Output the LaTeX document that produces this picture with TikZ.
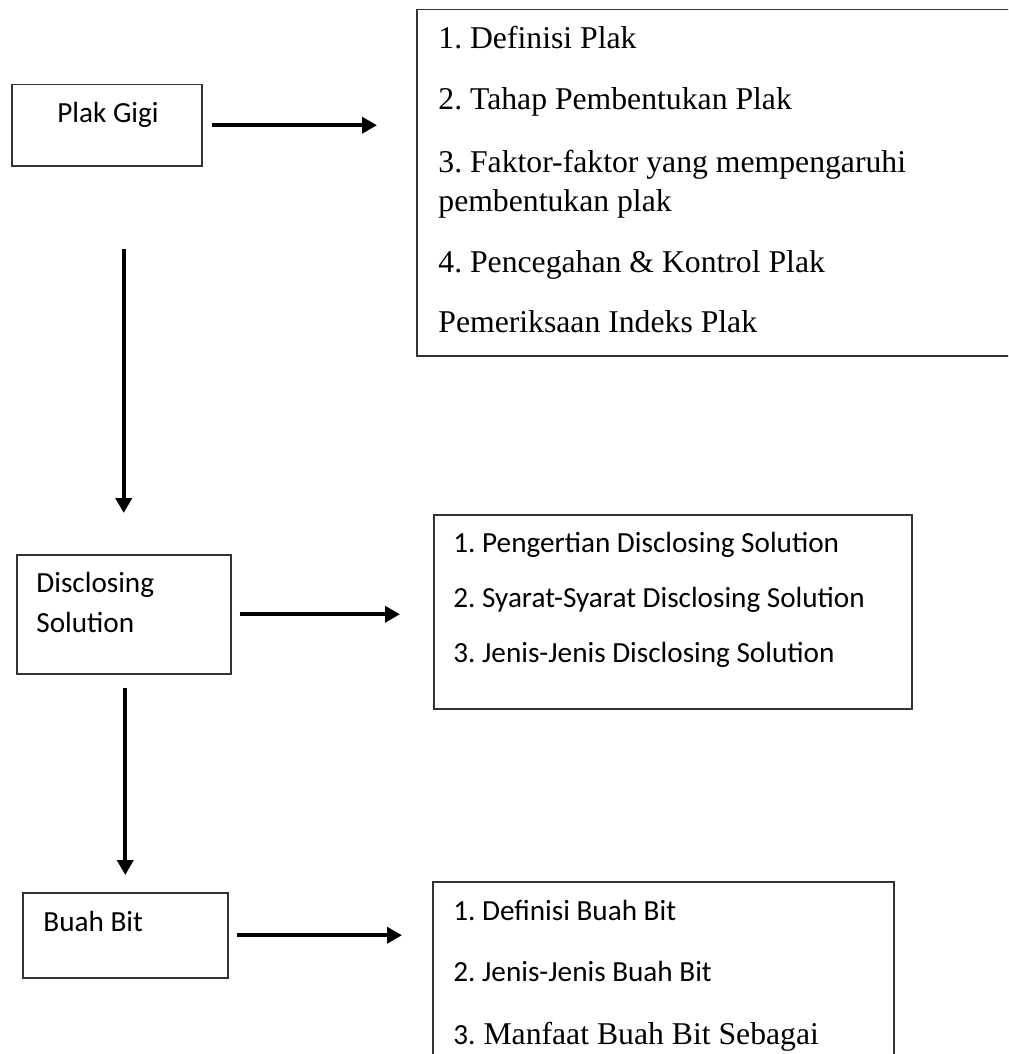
\documentclass[tikz,border=0pt]{standalone}
\usepackage{fontspec}
\setmainfont{Liberation Serif}
\newfontfamily\calibri{Carlito}
\usetikzlibrary{positioning, arrows.meta}
\frenchspacing

\begin{document}
\begin{tikzpicture}[x=0.5pt, y=-0.5pt,
	box/.style={draw=black!80, line width=0.75pt, anchor=north west, inner sep=0pt},
	sans/.style={anchor=base west, inner sep=0pt, font=\calibri\fontsize{14.6}{17}\selectfont},
	serif/.style={anchor=base west, inner sep=0pt, font=\fontsize{15.85}{19}\selectfont},
	arrow/.style={line width=2pt, -{Triangle[width=8pt, length=7.5pt]}}]
				\path[use as bounding box, clip] (0,0) rectangle (1008,1054);
				% left column
				\node[box, minimum width=95pt, minimum height=40.5pt] (pg) at (11,84) {};
				\node[box, minimum width=107pt, minimum height=59.5pt] (ds) at (16,554) {};
				\node[box, minimum width=102.5pt, minimum height=42.5pt] (bb) at (22,892) {};
				\node[sans] (pgt) at (57,122) {Plak Gigi};
				\node[sans] (dst1) at (36,592) {Disclosing};
				\node[sans] (dst2) at (36,632) {Solution};
				\node[sans] (bbt) at (43,931) {Buah Bit};
				% right column
				\node[box, minimum width=310pt, minimum height=173pt] (l1) at (416,9) {};
				\node[box, minimum width=239pt, minimum height=97pt] (l2) at (433,514) {};
				\node[box, minimum width=230.5pt, minimum height=100pt] (l3) at (432,881) {};
				\node[serif] (l1a) at (438,49) {1. Definisi Plak};
				\node[serif] (l1b) at (438,110) {2. Tahap Pembentukan Plak};
				\node[serif] (l1c) at (438,172) {3. Faktor-faktor yang mempengaruhi};
				\node[serif] (l1d) at (438,211) {pembentukan plak};
				\node[serif] (l1e) at (438,272) {4. Pencegahan \& Kontrol Plak};
				\node[serif] (l1f) at (438,332) {Pemeriksaan Indeks Plak};
				\node[sans] (l2a) at (453,552) {1. Pengertian Disclosing Solution};
				\node[sans] (l2b) at (453,607) {2. Syarat-Syarat Disclosing Solution};
				\node[sans] (l2c) at (453,662) {3. Jenis-Jenis Disclosing Solution};
				\node[sans] (l3a) at (453,920) {1. Definisi Buah Bit};
				\node[sans] (l3b) at (453,981) {2. Jenis-Jenis Buah Bit};
				\node[sans] (l3c) at (453,1044) {3.\fontspec{Liberation Serif}\fontsize{15.85}{19}\selectfont{} Manfaat Buah Bit Sebagai};
				% arrows
				\draw[arrow, shorten <=4.5pt, shorten >=19.5pt] (pg.east) -- (pg.east -| l1.west);
				\draw[arrow, shorten <=4pt, shorten >=16.5pt] (ds.east) -- (ds.east -| l2.west);
				\draw[arrow, shorten <=4pt, shorten >=15pt] (bb.east) -- (bb.east -| l3.west);
				\draw[arrow, shorten <=41pt, shorten >=20.5pt] (ds.north |- pg.south) -- (ds.north);
				\draw[arrow, shorten <=6.5pt, shorten >=8.5pt] (bb.north |- ds.south) -- (bb.north);
			\end{tikzpicture}
\end{document}
